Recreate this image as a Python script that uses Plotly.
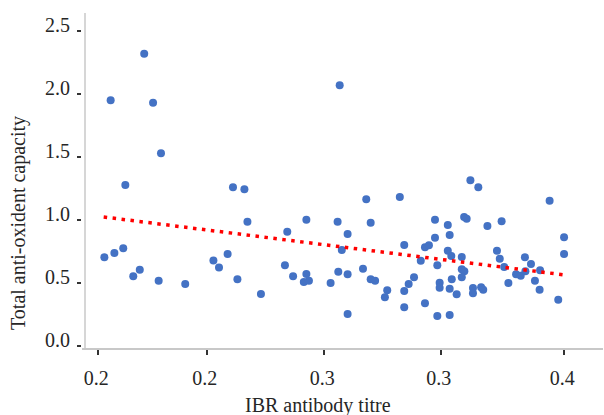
import plotly.graph_objects as go

# IBR antibody titre (x) and total anti-oxident capacity (y)
ibr_titre = [
    0.2197, 0.2053, 0.2235, 0.2269, 0.3036, 0.2116, 0.2026, 0.2069, 0.2107, 0.2178,
    0.2150, 0.2259, 0.2373, 0.2494, 0.2518, 0.2555, 0.2578, 0.2627, 0.2640, 0.2597,
    0.2698, 0.2811, 0.2893, 0.2801, 0.2836, 0.2893, 0.2882, 0.2904, 0.2997, 0.3027,
    0.3150, 0.3294, 0.3169, 0.3070, 0.3045, 0.3030, 0.3070, 0.3136, 0.3169, 0.3188,
    0.3240, 0.3230, 0.3070, 0.3313, 0.3313, 0.3332, 0.3355, 0.3313, 0.3384, 0.3402,
    0.3419, 0.3445, 0.3445, 0.3402, 0.3455, 0.3465, 0.3465, 0.3455, 0.3500, 0.3508,
    0.3500, 0.3515, 0.3517, 0.3508, 0.3538, 0.3508, 0.3597, 0.3631, 0.3570, 0.3581,
    0.3670, 0.3731, 0.3937, 0.3999, 0.3999, 0.3560, 0.3560, 0.3571, 0.3560, 0.3608,
    0.3608, 0.3643, 0.3652, 0.3711, 0.3723, 0.3742, 0.3760, 0.3793, 0.3813, 0.3833,
    0.3831, 0.3857, 0.3874, 0.3896, 0.3894, 0.3974,
]
antioxidant_capacity = [
    2.32, 1.95, 1.93, 1.53, 2.07, 1.278, 0.704, 0.738, 0.775, 0.606,
    0.553, 0.518, 0.492, 0.679, 0.624, 0.730, 1.259, 1.244, 0.987, 0.529,
    0.413, 0.907, 1.002, 0.640, 0.553, 0.571, 0.508, 0.518, 0.500, 0.987,
    1.164, 1.183, 0.979, 0.889, 0.762, 0.590, 0.569, 0.614, 0.529, 0.518,
    0.442, 0.387, 0.254, 0.802, 0.437, 0.492, 0.545, 0.307, 0.677, 0.783,
    0.799, 1.002, 0.860, 0.339, 0.640, 0.502, 0.463, 0.238, 0.960, 0.881,
    0.756, 0.714, 0.529, 0.455, 0.410, 0.246, 1.315, 1.259, 1.024, 1.010,
    0.952, 0.990, 1.153, 0.863, 0.730, 0.706, 0.609, 0.593, 0.545, 0.460,
    0.418, 0.466, 0.447, 0.756, 0.693, 0.627, 0.500, 0.569, 0.558, 0.593,
    0.704, 0.651, 0.518, 0.601, 0.447, 0.367,
]

# Linear trend line end points
trend_x = [0.2023, 0.3993]
trend_y = [1.024, 0.566]

# Axis ticks
x_tick_vals = [0.2, 0.2465, 0.2970, 0.3470, 0.4]
x_tick_text = ["0.2", "0.2", "0.3", "0.3", "0.4"]
y_tick_vals = [0.0, 0.5, 1.0, 1.5, 2.0, 2.5]
y_tick_text = ["0.0", "0.5", "1.0", "1.5", "2.0", "2.5"]

x_title = "IBR antibody titre"
y_title = "Total anti-oxident capacity"

FONT = "Liberation Serif, Times New Roman, serif"
TEXT = "#262626"

fig = go.Figure()
fig.add_trace(go.Scatter(
    x=ibr_titre, y=antioxidant_capacity, mode="markers",
    marker=dict(color="#4472C4", size=8, line=dict(width=0)),
    showlegend=False, hoverinfo="x+y",
))
fig.add_trace(go.Scatter(
    x=trend_x, y=trend_y, mode="lines",
    line=dict(color="#FF0000", width=3.5, dash="3.5px,5.5px"),
    showlegend=False, hoverinfo="skip",
))

fig.update_layout(
    width=604, height=415,
    margin=dict(l=82, r=1, t=13, b=67),
    paper_bgcolor="white", plot_bgcolor="white",
    font=dict(family=FONT, size=20, color=TEXT),
    xaxis=dict(
        range=[0.1930, 0.41661], tickvals=x_tick_vals, ticktext=x_tick_text,
        showgrid=False, zeroline=False,
        showline=True, linecolor="#c8c8c8", linewidth=1.5,
        ticks="outside", ticklen=5, tickwidth=2, tickcolor="#333333",
        ticklabelstandoff=6, ticklabelshift=-2,
        tickfont=dict(family=FONT, size=20, color=TEXT),
    ),
    yaxis=dict(
        range=[-0.0159, 2.643], tickvals=y_tick_vals, ticktext=y_tick_text,
        showgrid=False, zeroline=False, showline=False,
        ticks="outside", ticklen=4, tickwidth=2, tickcolor="#333333",
        ticklabelshift=-6, ticklabelstandoff=3,
        tickfont=dict(family=FONT, size=20, color=TEXT),
    ),
    shapes=[dict(
        type="line", xref="paper", yref="paper",
        x0=3 / 521, x1=3 / 521, y0=0, y1=1,
        line=dict(color="#c8c8c8", width=1.5),
    )],
    annotations=[
        dict(text=x_title, xref="paper", yref="paper",
             x=(318 - 82) / 521, y=-(405 - 348) / 335,
             xanchor="center", yanchor="middle", showarrow=False,
             font=dict(family=FONT, size=20, color=TEXT)),
        dict(text=y_title, xref="paper", yref="paper",
             x=-(82 - 18) / 521, y=(348 - 223) / 335,
             xanchor="center", yanchor="middle", showarrow=False, textangle=-90,
             font=dict(family=FONT, size=20, color=TEXT)),
    ],
)

fig.write_html(
    "out.html",
    config={"displayModeBar": False},
    post_script="document.body.style.margin='0';document.body.style.overflow='hidden';",
)
